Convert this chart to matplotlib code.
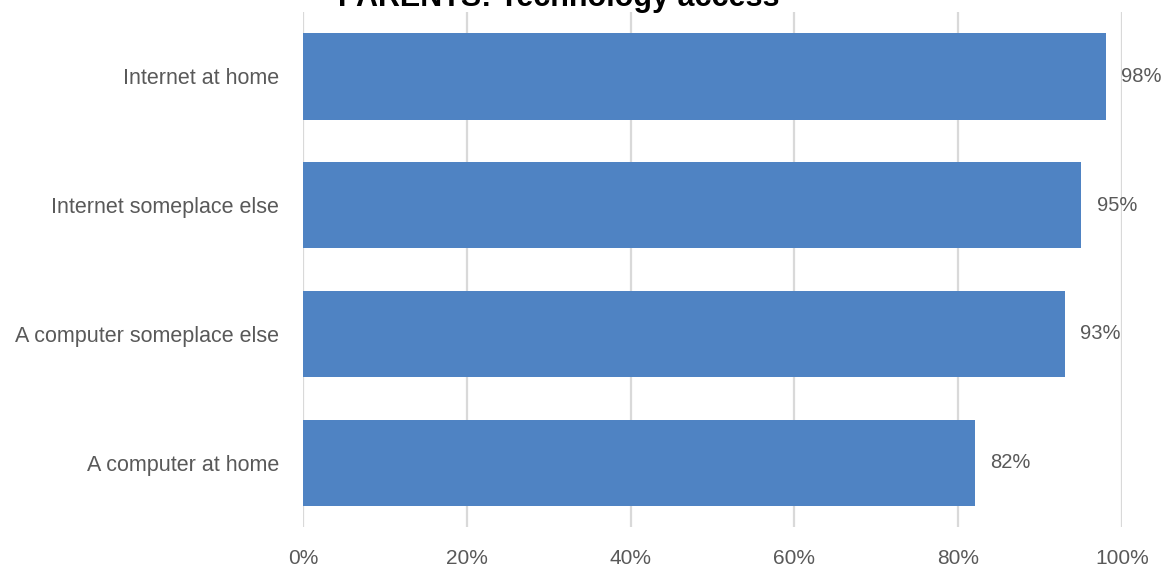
import matplotlib.pyplot as plt

# ---------------------------------------------------------------------------
# Data
# ---------------------------------------------------------------------------
categories = ["A computer at home", "A computer someplace else",
              "Internet someplace else", "Internet at home"]
values = [82, 93, 95, 98]
xticks = [0, 20, 40, 60, 80, 100]

BAR_COLOR = "#4f83c3"
TEXT_COLOR = "#595959"
GRID_COLOR = "#d9d9d9"

plt.rcParams["font.family"] = ["Liberation Sans", "DejaVu Sans"]

# ---------------------------------------------------------------------------
# Plot
# ---------------------------------------------------------------------------
fig = plt.figure(figsize=(11.68, 5.69), dpi=100)
ax = fig.add_axes([0.2594, 0.0738, 0.7012, 0.905])

y = range(len(categories))
ax.barh(y, values, height=0.67, color=BAR_COLOR, zorder=2)

for yi, v in zip(y, values):
    ax.text(v + 1.9, yi, f"{v}%", va="center", ha="left",
            fontsize=14.5, color=TEXT_COLOR, zorder=3)

ax.set_xlim(0, 100)
ax.set_ylim(-0.5, len(categories) - 0.5)
ax.set_xticks(xticks)
ax.set_xticklabels([f"{t}%" for t in xticks])
ax.set_yticks(list(y))
ax.set_yticklabels(categories)

ax.tick_params(axis="both", length=0, colors=TEXT_COLOR)
ax.tick_params(axis="x", pad=16, labelsize=15)
ax.tick_params(axis="y", pad=17, labelsize=15.5)

ax.grid(axis="x", color=GRID_COLOR, linewidth=1.6, zorder=0)
ax.set_axisbelow(True)
for s in ax.spines.values():
    s.set_visible(False)

# title sits partly above the canvas, as in the original export
fig.text(0.478, 1.003, "PARENTS: Technology access", ha="center", va="center",
         fontsize=22, fontweight="bold", color="black")

fig.savefig("out.png", dpi=100)
plt.close(fig)
